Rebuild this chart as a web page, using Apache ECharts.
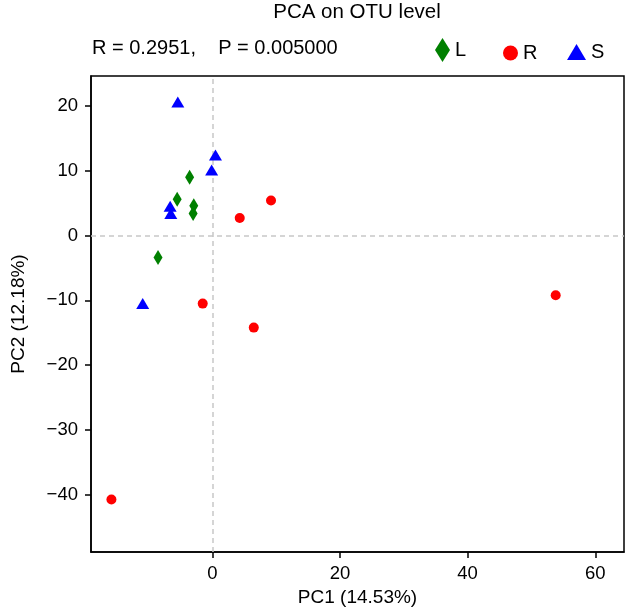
<!DOCTYPE html>
<html>
<head>
<meta charset="utf-8">
<script src="https://cdn.jsdelivr.net/npm/echarts@6/dist/echarts.min.js"></script>
<style>html,body{margin:0;padding:0;background:#fff}#c{width:626px;height:612px}</style>
</head>
<body>
<div id="c"></div>
<script>
var titleText = 'PCA on OTU level';
var statText = 'R = 0.2951,    P = 0.005000';
var xName = 'PC1 (14.53%)';
var yName = 'PC2 (12.18%)';
var xTicks = [0, 20, 40, 60];
var yTicks = [-40, -30, -20, -10, 0, 10, 20];
var groups = ['L', 'R', 'S'];
var L_pc1 = [-3.55, -5.5, -2.9, -3.0, -8.5];
var L_pc2 = [9.0, 5.6, 4.6, 3.4, -3.4];
var R_pc1 = [9.2, 4.3, -1.5, 6.5, -15.8, 53.8];
var R_pc2 = [5.4, 2.7, -10.5, -14.2, -40.7, -9.2];
var S_pc1 = [-5.4, 0.5, -0.1, -6.6, -6.5, -10.9];
var S_pc2 = [20.6, 12.4, 10.1, 4.5, 3.4, -10.5];

function pairs(a, b) { return a.map(function (v, i) { return [v, b[i]]; }); }
function fmt(v) { return String(v).replace('-', '\u2212'); }
var FONT = 'Liberation Sans, Arial, sans-serif';
var chart = echarts.init(document.getElementById('c'), null, {renderer: 'canvas'});
chart.setOption({
  animation: false,
  backgroundColor: '#fff',
  textStyle: {fontFamily: FONT},
  grid: {left: 91, right: 2, top: 76, bottom: 59.5, show: true, borderColor: '#000', borderWidth: 1.5, containLabel: false},
  graphic: [
    {type: 'text', x: 357, y: 12, style: {text: titleText, font: '20.5px ' + FONT, fill: '#000', textAlign: 'center', textVerticalAlign: 'middle'}},
    {type: 'text', x: 92, y: 48, style: {text: statText, font: '20px ' + FONT, fill: '#000', textAlign: 'left', textVerticalAlign: 'middle'}}
  ],
  legend: [
    {data: [{name: 'L', icon: 'diamond'}], left: 430, top: 33, itemWidth: 15, itemHeight: 24, itemGap: 4, textStyle: {fontSize: 20, color: '#000', fontFamily: FONT}},
    {data: [{name: 'R', icon: 'circle'}], left: 498, top: 38, itemWidth: 15, itemHeight: 15, itemGap: 4, textStyle: {fontSize: 20, color: '#000', fontFamily: FONT}},
    {data: [{name: 'S', icon: 'triangle'}], left: 562, top: 37, itemWidth: 19, itemHeight: 16, itemGap: 4, textStyle: {fontSize: 20, color: '#000', fontFamily: FONT}}
  ],
  xAxis: {
    type: 'value', min: -19, max: 64.5,
    name: xName, nameLocation: 'middle', nameGap: 36,
    nameTextStyle: {fontSize: 19, color: '#000', fontFamily: FONT},
    axisLine: {show: true, onZero: false, lineStyle: {color: '#000', width: 1.5}},
    axisTick: {show: true, length: 6, customValues: xTicks, lineStyle: {color: '#000', width: 1.5}},
    axisLabel: {customValues: xTicks, formatter: fmt, fontSize: 18.5, color: '#000', margin: 12, fontFamily: FONT},
    splitLine: {show: false}
  },
  yAxis: {
    type: 'value', min: -48.8, max: 24.6,
    name: yName, nameLocation: 'middle', nameGap: 63,
    nameTextStyle: {fontSize: 19, color: '#000', fontFamily: FONT},
    axisLine: {show: true, onZero: false, lineStyle: {color: '#000', width: 1.5}},
    axisTick: {show: true, length: 6, customValues: yTicks, lineStyle: {color: '#000', width: 1.5}},
    axisLabel: {customValues: yTicks, formatter: fmt, fontSize: 18.5, color: '#000', margin: 13, fontFamily: FONT},
    splitLine: {show: false}
  },
  series: [
    {name: groups[0], type: 'scatter', symbol: 'diamond', symbolSize: [9, 15], itemStyle: {color: '#008000', opacity: 1}, data: pairs(L_pc1, L_pc2), z: 3,
     markLine: {silent: true, symbol: 'none', label: {show: false}, lineStyle: {color: '#c8c8c8', type: [5, 4], width: 1.5}, data: [{xAxis: 0}, {yAxis: 0}], z: 1}},
    {name: groups[1], type: 'scatter', symbol: 'circle', symbolSize: 10, itemStyle: {color: '#ff0000', opacity: 1}, data: pairs(R_pc1, R_pc2), z: 3},
    {name: groups[2], type: 'scatter', symbol: 'triangle', symbolSize: [13, 11], itemStyle: {color: '#0000ff', opacity: 1}, data: pairs(S_pc1, S_pc2), z: 3}
  ]
});
</script>
</body>
</html>
